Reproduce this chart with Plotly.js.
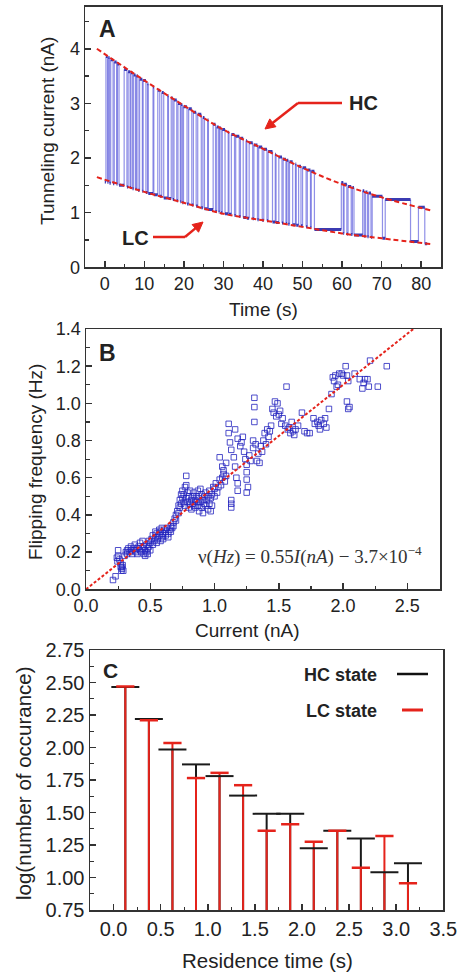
<!DOCTYPE html>
<html><head><meta charset="utf-8">
<script src="https://cdn.plot.ly/plotly-3.0.1.min.js"></script>
<style>html,body{margin:0;padding:0;background:#fff}#chart{width:459px;height:972px}</style>
</head><body><div id="chart"></div>
<script>
// ---------- Panel A: tunneling current telegraph trace ----------
const dwellStart = [0.0,0.3,0.7,0.9,1.2,1.5,2.1,2.4,3.0,3.2,3.6,4.9,5.6,5.9,6.4,6.6,7.0,7.3,7.8,8.0,8.4,8.8,9.5,9.7,10.4,10.8,11.0,12.2,12.4,13.4,13.9,14.4,14.9,15.9,16.1,16.8,17.2,17.5,18.2,18.5,19.1,19.3,19.6,19.9,20.8,21.2,22.0,22.4,23.1,23.5,24.4,24.8,25.2,26.0,26.2,27.4,28.0,28.3,28.8,29.0,29.4,29.7,30.4,31.2,31.4,32.0,32.8,33.1,34.0,34.3,35.0,35.7,35.9,36.5,37.4,37.7,38.6,38.9,39.8,40.2,41.0,41.3,42.4,43.1,43.3,44.0,44.8,45.1,45.8,46.0,46.4,46.7,47.5,48.2,48.4,49.0,49.6,50.0,50.9,51.2,52.0,52.2,53.0,59.8,60.3,60.5,61.2,61.5,62.3,62.6,63.0,65.2,65.6,65.9,66.4,66.7,67.3,67.6,70.2,70.9,77.3,79.3,80.9];
const traceEnd = 81.5;
const dwellCurrent = [1.56,3.86,1.55,3.84,1.54,3.80,1.53,3.76,1.52,3.72,1.50,3.62,1.47,3.58,1.46,3.56,1.44,3.52,1.43,3.50,1.41,3.44,1.39,3.42,1.37,3.36,1.35,3.30,1.33,3.24,1.30,3.20,1.27,3.14,1.26,3.10,1.24,3.06,1.22,3.00,1.20,2.98,1.18,2.94,1.16,2.90,1.14,2.84,1.12,2.80,1.09,2.74,1.07,2.70,1.06,2.62,1.02,2.57,1.01,2.55,1.00,2.52,0.98,2.47,0.97,2.43,0.95,2.40,0.93,2.36,0.91,2.32,0.90,2.28,0.89,2.24,0.87,2.20,0.86,2.16,0.85,2.12,0.83,2.07,0.82,2.02,0.81,1.98,0.80,1.96,0.79,1.93,0.78,1.89,0.77,1.85,0.76,1.82,0.74,1.78,0.73,1.76,0.69,1.55,0.62,1.52,0.61,1.48,0.60,1.46,0.59,1.40,0.57,1.38,0.56,1.36,0.55,1.30,0.53,1.24,0.47,1.10,0.43];
const fitTime = [-2, 5, 10, 20, 30, 40, 50, 60, 70, 83];
const fitHC = [4.00, 3.66, 3.42, 2.96, 2.52, 2.17, 1.82, 1.52, 1.28, 1.03];
const fitLC = [1.65, 1.49, 1.38, 1.18, 0.98, 0.86, 0.74, 0.62, 0.53, 0.42];

// ---------- Panel B: flipping frequency vs current ----------
const flipCurrent = [0.21,0.23,0.25,0.24,0.245,0.25,0.26,0.27,0.275,0.28,0.285,0.27,0.29,0.28,
0.30,0.31,0.32,0.32,0.33,0.34,0.35,0.35,0.36,0.37,0.38,0.38,0.39,0.40,0.40,0.41,0.42,0.42,0.43,0.44,0.44,0.45,0.45,0.46,0.46,0.47,0.47,0.48,0.48,0.49,0.49,0.50,0.50,
0.51,0.52,0.52,0.53,0.54,0.54,0.55,0.55,0.56,0.57,0.57,0.58,0.58,0.59,0.59,0.60,0.60,0.61,0.62,0.62,0.63,0.64,0.64,0.65,0.66,0.66,0.67,0.68,0.68,0.69,0.70,0.70,
0.71,0.72,0.72,0.73,0.73,0.74,0.74,0.75,0.75,0.76,0.76,0.77,0.77,0.78,0.78,0.78,0.79,0.79,0.80,0.80,0.81,0.81,0.82,0.82,0.83,0.83,0.84,0.84,0.85,0.85,0.86,0.86,0.87,0.87,0.88,0.88,0.89,0.89,0.90,0.90,0.91,0.91,0.92,0.92,0.93,0.93,0.94,0.95,0.95,0.96,0.96,0.97,0.97,0.98,0.98,0.99,1.00,1.00,1.01,1.02,1.03,1.04,1.05,1.06,1.07,1.08,1.09,
1.04,1.06,1.07,1.09,1.11,1.11,1.12,1.13,1.13,1.13,1.13,1.15,1.16,1.17,1.18,1.18,1.16,1.18,1.20,1.21,1.22,1.23,1.24,1.25,1.25,1.25,1.26,1.25,1.27,1.28,1.30,1.30,1.31,1.31,1.31,1.32,1.33,1.34,1.35,1.36,1.37,1.38,1.39,1.40,1.41,1.42,1.43,1.44,1.45,1.46,1.47,1.48,1.49,1.50,1.51,1.52,1.53,1.55,1.56,1.57,1.58,1.59,1.60,1.61,1.62,1.63,1.65,1.68,1.70,1.72,1.74,1.77,1.78,1.80,1.81,1.82,1.83,1.85,1.86,1.87,1.89,1.91,1.92,1.93,1.94,1.95,1.96,1.97,1.99,2.00,2.02,2.03,2.03,2.04,2.05,2.04,2.09,2.13,2.15,2.16,2.17,2.19,2.20,2.21,2.27,2.34];
const flipFreq = [0.05,0.07,0.21,0.17,0.15,0.18,0.16,0.12,0.10,0.11,0.13,0.14,0.10,0.12,
0.18,0.20,0.19,0.21,0.22,0.20,0.21,0.23,0.19,0.22,0.21,0.24,0.20,0.22,0.19,0.23,0.21,0.25,0.20,0.22,0.26,0.19,0.23,0.18,0.21,0.24,0.20,0.22,0.19,0.26,0.23,0.21,0.25,
0.27,0.24,0.29,0.26,0.28,0.31,0.25,0.30,0.27,0.32,0.29,0.26,0.31,0.33,0.28,0.30,0.27,0.32,0.29,0.31,0.33,0.30,0.28,0.32,0.34,0.31,0.33,0.36,0.34,0.38,0.37,0.40,
0.42,0.45,0.41,0.48,0.44,0.51,0.46,0.49,0.53,0.47,0.51,0.45,0.55,0.49,0.61,0.56,0.52,0.47,0.44,0.50,0.46,0.53,0.48,0.43,0.50,0.46,0.45,0.52,0.48,0.44,0.47,0.50,0.53,0.45,0.49,0.42,0.54,0.47,0.51,0.44,0.48,0.41,0.50,0.46,0.52,0.45,0.48,0.43,0.50,0.46,0.53,0.42,0.49,0.45,0.51,0.55,0.50,0.54,0.57,0.52,0.55,0.59,0.56,0.60,0.62,0.58,0.61,
0.71,0.66,0.64,0.68,0.89,0.84,0.79,0.75,0.48,0.46,0.44,0.71,0.66,0.60,0.57,0.53,0.86,0.81,0.77,0.79,0.82,0.74,0.70,0.67,0.63,0.59,0.55,0.52,0.72,0.69,0.76,0.80,1.03,0.98,0.90,0.78,0.69,0.73,0.68,0.77,0.74,0.80,0.84,0.78,0.86,0.82,0.85,0.88,0.97,0.95,1.01,0.93,1.00,0.94,0.96,0.89,0.92,0.88,1.09,0.86,0.87,0.84,0.90,0.85,0.83,0.86,0.88,0.95,0.85,0.84,0.84,0.92,0.89,0.90,0.88,0.86,0.91,0.89,0.92,0.87,0.97,1.05,1.14,1.12,1.15,1.09,1.10,1.16,1.16,1.15,1.20,1.15,1.01,0.97,0.98,1.12,1.16,1.13,1.08,1.11,1.13,1.13,1.09,1.23,1.09,1.20];
const lineCurrent = [0, 2.546];
const lineFreq = [0, 1.4];

// ---------- Panel C: residence time histogram (log) ----------
const residenceTime = [0.125,0.375,0.625,0.875,1.125,1.375,1.625,1.875,2.125,2.375,2.625,2.875,3.125];
const hcLog = [2.465,2.22,1.985,1.87,1.78,1.63,1.49,1.49,1.225,1.36,1.30,1.04,1.11];
const lcLog = [2.47,2.21,2.035,1.765,1.805,1.71,1.36,1.41,1.275,1.36,1.075,1.32,0.955];
const logBase = 0.75;

// ---------- build traces ----------
const W = 459, H = 972;
const px = v => v / W, py = v => 1 - v / H;

const hx = [], hy = [], vx = [], vy = [];
for (let i = 0; i < dwellStart.length; i++) {
  const t1 = i + 1 < dwellStart.length ? dwellStart[i + 1] : traceEnd;
  hx.push(dwellStart[i], t1, null); hy.push(dwellCurrent[i], dwellCurrent[i], null);
  if (i > 0) { vx.push(dwellStart[i], dwellStart[i], null); vy.push(dwellCurrent[i - 1], dwellCurrent[i], null); }
}
const stemX = () => { const a = []; residenceTime.forEach(t => a.push(t, t, null)); return a; };
const stemY = (vals) => { const a = []; vals.forEach(v => a.push(logBase, v, null)); return a; };

const RED = '#e5231b';
const data = [
  {x: vx, y: vy, xaxis: 'x', yaxis: 'y', mode: 'lines', line: {color: 'rgba(70,70,215,0.6)', width: 1.2}, hoverinfo: 'skip'},
  {x: hx, y: hy, xaxis: 'x', yaxis: 'y', mode: 'lines', line: {color: 'rgba(25,25,165,0.85)', width: 3}, hoverinfo: 'skip'},
  {x: fitTime, y: fitHC, xaxis: 'x', yaxis: 'y', mode: 'lines', line: {color: RED, width: 2, dash: '5px,3px', shape: 'spline'}},
  {x: fitTime, y: fitLC, xaxis: 'x', yaxis: 'y', mode: 'lines', line: {color: RED, width: 2, dash: '5px,3px', shape: 'spline'}},
  {x: flipCurrent, y: flipFreq, xaxis: 'x2', yaxis: 'y2', mode: 'markers', marker: {symbol: 'square-open', size: 5.5, color: 'rgba(35,35,190,0.8)', line: {width: 1}}},
  {x: lineCurrent, y: lineFreq, xaxis: 'x2', yaxis: 'y2', mode: 'lines', line: {color: RED, width: 2, dash: '3px,2px'}},
  {x: stemX(), y: stemY(hcLog), xaxis: 'x3', yaxis: 'y3', mode: 'lines', line: {color: '#1a1a1a', width: 2}},
  {x: stemX(), y: stemY(lcLog), xaxis: 'x3', yaxis: 'y3', mode: 'lines', line: {color: RED, width: 2}},
  {x: residenceTime, y: hcLog, xaxis: 'x3', yaxis: 'y3', mode: 'markers', marker: {symbol: 'line-ew', size: 20, line: {color: '#1a1a1a', width: 2}}},
  {x: residenceTime, y: lcLog, xaxis: 'x3', yaxis: 'y3', mode: 'markers', marker: {symbol: 'line-ew', size: 13, line: {color: RED, width: 2.5}}}
];

const axBase = {showline: true, mirror: true, linecolor: '#333', linewidth: 1.5, showgrid: false, zeroline: false,
  ticks: 'inside', ticklen: 6, tickwidth: 1.5, tickcolor: '#333', fixedrange: true};
const minor = (d) => ({dtick: d, ticks: 'inside', ticklen: 3.5, tickwidth: 1.2, tickcolor: '#333', showgrid: false});
const tf = (s) => ({family: 'Liberation Sans, Arial, sans-serif', size: s, color: '#222'});

const ann = [];
const txt = (x, y, text, size, opts) => ann.push(Object.assign({xref: 'paper', yref: 'paper', x: px(x), y: py(y), text: text, showarrow: false,
  xanchor: 'center', yanchor: 'middle', font: tf(size)}, opts || {}));
// axis titles
txt(48, 131, 'Tunneling current (nA)', 19, {textangle: -90});
txt(263, 310, 'Time (s)', 19);
txt(35, 462, 'Flipping frequency (Hz)', 19, {textangle: -90});
txt(247, 630, 'Current (nA)', 19);
txt(23, 783, 'log(number of occurance)', 20.5, {textangle: -90});
txt(267, 960, 'Residence time (s)', 20.5);
// panel letters
txt(107, 29, '<b>A</b>', 23);
txt(107, 353, '<b>B</b>', 23);
txt(110, 670, '<b>C</b>', 21);
// HC / LC labels
txt(363, 103, '<b>HC</b>', 20);
txt(135, 238, '<b>LC</b>', 20);
// equation
ann.push({xref: 'paper', yref: 'paper', x: px(310), y: py(555), showarrow: false, xanchor: 'center', yanchor: 'middle',
  text: 'ν(<i>Hz</i>) = 0.55<i>I</i>(<i>nA</i>) − 3.7×10<sup>−4</sup>', font: {family: 'Liberation Serif, Times New Roman, serif', size: 19, color: '#333'}});
// legend texts
txt(379, 675, '<b>HC state</b>', 18, {xanchor: 'right'});
txt(379, 711, '<b>LC state</b>', 18, {xanchor: 'right'});

// bent red arrows (pixel geometry -> paper shapes)
const shapes = [];
function bentArrow(start, bend, head) {
  const seg = (a, b) => shapes.push({type: 'line', xref: 'paper', yref: 'paper', x0: px(a[0]), y0: py(a[1]), x1: px(b[0]), y1: py(b[1]), line: {color: RED, width: 2.5}});
  const dx = head[0] - bend[0], dy = head[1] - bend[1], L = Math.hypot(dx, dy);
  const ux = dx / L, uy = dy / L, len = 10, hw = 5;
  const base = [head[0] - ux * len, head[1] - uy * len];
  seg(start, bend); seg(bend, base);
  const c1 = [base[0] - uy * hw, base[1] + ux * hw], c2 = [base[0] + uy * hw, base[1] - ux * hw];
  shapes.push({type: 'path', xref: 'paper', yref: 'paper', fillcolor: RED, line: {color: RED, width: 1},
    path: `M ${px(head[0])} ${py(head[1])} L ${px(c1[0])} ${py(c1[1])} L ${px(c2[0])} ${py(c2[1])} Z`});
}
bentArrow([342, 103], [298, 103], [265, 129]);
bentArrow([153, 237], [185, 237], [203, 222]);
// legend line samples
shapes.push({type: 'line', xref: 'paper', yref: 'paper', x0: px(397), x1: px(428), y0: py(674), y1: py(674), line: {color: '#111', width: 2.5}});
shapes.push({type: 'line', xref: 'paper', yref: 'paper', x0: px(402), x1: px(423), y0: py(710), y1: py(710), line: {color: RED, width: 3}});

const layout = {
  width: W, height: H, margin: {l: 0, r: 0, t: 0, b: 0}, paper_bgcolor: '#fff', plot_bgcolor: '#fff', showlegend: false,
  font: tf(18),
  xaxis: Object.assign({}, axBase, {domain: [px(85), px(441)], anchor: 'y', range: [-5, 85], tick0: 0, dtick: 10, minor: minor(5), tickfont: tf(18)}),
  yaxis: Object.assign({}, axBase, {domain: [py(267.3), py(6.7)], anchor: 'x', range: [0, 4.77], tick0: 0, dtick: 1, minor: minor(0.5), tickfont: tf(18)}),
  xaxis2: Object.assign({}, axBase, {domain: [px(86), px(440)], anchor: 'y2', range: [0, 2.754], tick0: 0, dtick: 0.5, tickformat: '.1f', minor: minor(0.25), tickfont: tf(18)}),
  yaxis2: Object.assign({}, axBase, {domain: [py(589.3), py(329)], anchor: 'x2', range: [0, 1.4], tick0: 0, dtick: 0.2, tickformat: '.1f', minor: minor(0.1), tickfont: tf(18)}),
  xaxis3: Object.assign({}, axBase, {domain: [px(90), px(443.3)], anchor: 'y3', range: [-0.25, 3.5], tick0: 0, dtick: 0.5, tickformat: '.1f', minor: minor(0.25), tickfont: tf(20)}),
  yaxis3: Object.assign({}, axBase, {domain: [py(910), py(650)], anchor: 'x3', range: [0.75, 2.75], tick0: 0, dtick: 0.25, tickformat: '.2f', minor: minor(0.125), tickfont: tf(20)}),
  annotations: ann, shapes: shapes
};
Plotly.newPlot('chart', data, layout, {staticPlot: true, displayModeBar: false});
</script></body></html>
